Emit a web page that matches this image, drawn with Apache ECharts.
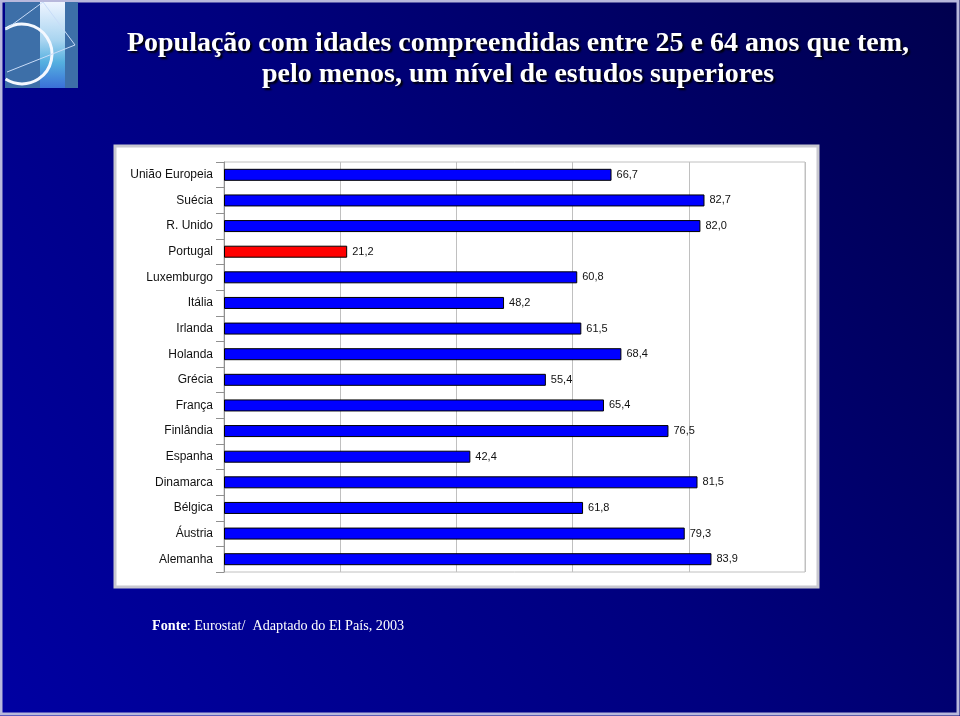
<!DOCTYPE html>
<html>
<head>
<meta charset="utf-8">
<script src="https://cdn.jsdelivr.net/npm/echarts@6/dist/echarts.min.js"></script>
<style>html,body{margin:0;padding:0;background:#000070;}#c{width:960px;height:716px;}</style>
</head>
<body>
<div id="c"></div>
<script>
const titleLines = ['População com idades compreendidas entre 25 e 64 anos que tem,', 'pelo menos, um nível de estudos superiores'];
const categories = ['União Europeia','Suécia','R. Unido','Portugal','Luxemburgo','Itália','Irlanda','Holanda','Grécia','França','Finlândia','Espanha','Dinamarca','Bélgica','Áustria','Alemanha'];
const values = [66.7, 82.7, 82.0, 21.2, 60.8, 48.2, 61.5, 68.4, 55.4, 65.4, 76.5, 42.4, 81.5, 61.8, 79.3, 83.9];
const highlighted = 'Portugal';
const axisMin = 0, axisMax = 100, axisStep = 20;
const sourceBold = 'Fonte';
const sourceRest = ': Eurostat/  Adaptado do El País, 2003';

const chart = echarts.init(document.getElementById('c'), null, {renderer: 'canvas'});
chart.setOption({
  animation: false,
  backgroundColor: {
    type: 'linear', x: 1, y: 0, x2: 0, y2: 1,
    colorStops: [{offset: 0, color: '#00004e'}, {offset: 0.5, color: '#00007e'}, {offset: 1, color: '#0000a2'}]
  },
  graphic: [
    {type: 'rect', z: -100, shape: {x: 1, y: 1, width: 957, height: 713}, style: {fill: 'none', stroke: '#b8b8dc', lineWidth: 3}},
    {type: 'rect', z: -90, shape: {x: 5, y: 2, width: 73, height: 86}, style: {fill: '#3d6fa8'}},
    {type: 'rect', z: -89, shape: {x: 40, y: 2, width: 25, height: 86},
      style: {fill: {type: 'linear', x: 0, y: 0, x2: 0, y2: 1, colorStops: [{offset: 0, color: '#eef4ff'}, {offset: 0.45, color: '#a8d4f0'}, {offset: 0.7, color: '#55b0e0'}, {offset: 1, color: '#3a70d8'}]}}},
    {type: 'arc', z: -88, shape: {cx: 22, cy: 54, r: 30, startAngle: -2.15, endAngle: 2.15, clockwise: true}, style: {fill: 'none', stroke: '#f4f8ff', lineWidth: 3}},
    {type: 'polyline', z: -88, shape: {points: [[5, 30], [43, 2], [75, 45], [7, 72]]}, style: {fill: 'none', stroke: '#c8dcf8', lineWidth: 1}},
    {type: 'rect', z: -80, shape: {x: 115, y: 146, width: 703, height: 441},
      style: {fill: '#ffffff', stroke: '#c8c8d0', lineWidth: 3}},
    {type: 'text', z: 10, x: 518, y: 28, style: {
      text: titleLines.join('\n'), fill: '#ffffff', font: 'bold 28px "Liberation Serif", serif',
      align: 'center', verticalAlign: 'top', lineHeight: 31,
      textShadowColor: '#000000', textShadowOffsetX: 2, textShadowOffsetY: 2, textShadowBlur: 2
    }},
    {type: 'text', z: 10, left: 152, top: 619, style: {
      text: '{b|' + sourceBold + '}{n|' + sourceRest + '}',
      rich: {
        b: {fontFamily: '"Liberation Serif", serif', fontWeight: 'bold', fontSize: 14.2, fill: '#ffffff', color: '#ffffff'},
        n: {fontFamily: '"Liberation Serif", serif', fontSize: 14.2, fill: '#ffffff', color: '#ffffff'}
      }
    }}
  ],
  grid: {left: 224, right: 155, top: 162, bottom: 144, show: true, borderColor: '#c0c0c0', borderWidth: 1, backgroundColor: 'transparent'},
  xAxis: {
    type: 'value', min: axisMin, max: axisMax, interval: axisStep,
    axisLabel: {show: false}, axisLine: {show: false}, axisTick: {show: false},
    splitLine: {show: true, lineStyle: {color: '#c0c0c0', width: 1}}
  },
  yAxis: {
    type: 'category', inverse: true, data: categories,
    axisLine: {show: true, lineStyle: {color: '#909090'}},
    axisTick: {show: true, length: 8, lineStyle: {color: '#909090'}},
    axisLabel: {margin: 11, color: '#111111', fontSize: 12, fontFamily: '"Liberation Sans", Arial, sans-serif'}
  },
  series: [{
    type: 'bar', barWidth: 12,
    data: values.map((v, i) => ({value: v, itemStyle: {color: categories[i] === highlighted ? '#ff0000' : '#0000ff'}})),
    itemStyle: {borderColor: '#000000', borderWidth: 1},
    label: {
      show: true, position: 'right', distance: 5, color: '#111111', fontSize: 11,
      fontFamily: '"Liberation Sans", Arial, sans-serif',
      formatter: p => p.value.toFixed(1).replace('.', ',')
    }
  }]
});
</script>
</body>
</html>
